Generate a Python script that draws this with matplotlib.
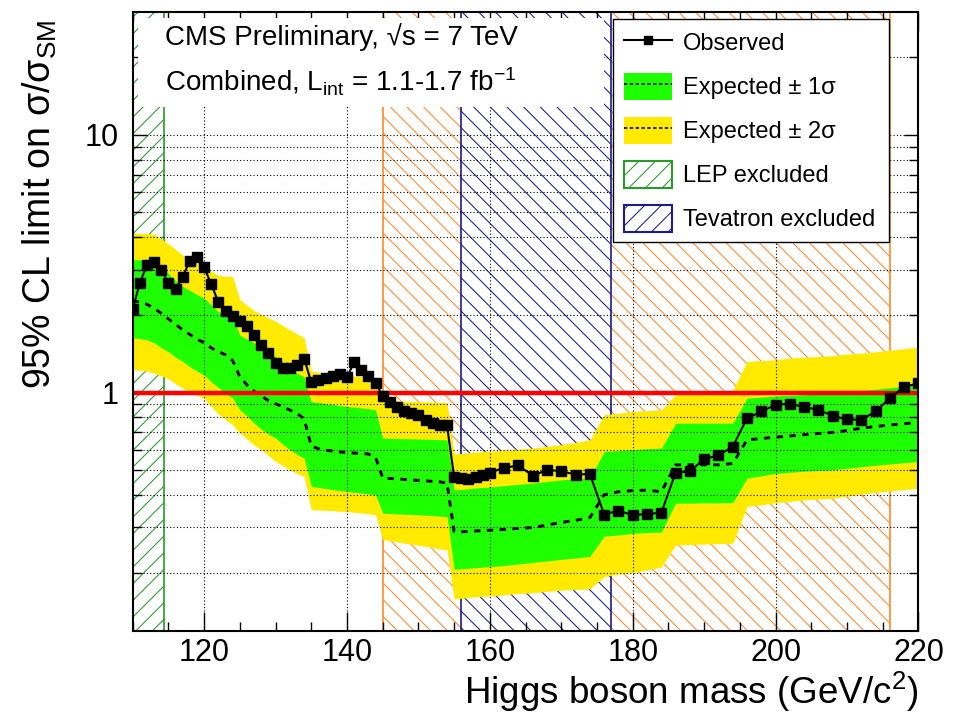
import matplotlib
matplotlib.use("Agg")
import matplotlib.pyplot as plt
from matplotlib.lines import Line2D
from matplotlib.patches import Patch, Rectangle
from matplotlib.ticker import MultipleLocator, NullFormatter

plt.rcParams['font.family'] = ['Liberation Sans', 'DejaVu Sans']
plt.rcParams['mathtext.fontset'] = 'custom'
plt.rcParams['mathtext.rm'] = 'Liberation Sans'
plt.rcParams['mathtext.it'] = 'Liberation Sans:italic'
plt.rcParams['mathtext.bf'] = 'Liberation Sans:bold'
plt.rcParams['hatch.linewidth'] = 0.75

# Higgs mass points (GeV)
masses = [110, 111, 112, 113, 114, 115, 116, 117, 118, 119,
          120, 121, 122, 123, 124, 125, 126, 127, 128, 129,
          130, 131, 132, 133, 134, 135, 136, 137, 138, 139,
          140, 141, 142, 143, 144, 145, 146, 147, 148, 149,
          150, 151, 152, 153, 154, 155, 156, 157, 158, 159,
          160, 162, 164, 166, 168, 170, 172, 174, 176, 178,
          180, 182, 184, 186, 188, 190, 192, 194, 196, 198,
          200, 202, 204, 206, 208, 210, 212, 214, 216, 218, 220]

observed = [2.10, 2.66, 3.13, 3.21, 2.98, 2.67, 2.52, 2.82, 3.24, 3.36,
            3.06, 2.63, 2.24, 2.08, 1.98, 1.90, 1.81, 1.67, 1.53, 1.42,
            1.30, 1.245, 1.245, 1.28, 1.355, 1.095, 1.115, 1.14, 1.16, 1.175,
            1.145, 1.315, 1.225, 1.155, 1.09, 0.97, 0.922, 0.882, 0.846, 0.832,
            0.821, 0.781, 0.763, 0.745, 0.745, 0.469, 0.467, 0.461, 0.472, 0.479,
            0.489, 0.510, 0.521, 0.475, 0.501, 0.495, 0.480, 0.483, 0.336, 0.348,
            0.334, 0.338, 0.341, 0.489, 0.494, 0.552, 0.570, 0.617, 0.795, 0.844,
            0.896, 0.904, 0.878, 0.857, 0.812, 0.786, 0.784, 0.844, 0.951, 1.052, 1.085]

expected = [2.27, 2.24, 2.20, 2.12, 2.03, 1.93, 1.84, 1.75, 1.68, 1.61,
            1.56, 1.49, 1.44, 1.40, 1.33, 1.15, 1.07, 1.01, 0.97, 0.93,
            0.905, 0.88, 0.855, 0.83, 0.79, 0.62, 0.605, 0.597, 0.592, 0.588,
            0.585, 0.582, 0.58, 0.577, 0.56, 0.466, 0.464, 0.462, 0.46, 0.458,
            0.456, 0.454, 0.452, 0.45, 0.445, 0.289, 0.288, 0.289, 0.29, 0.291,
            0.292, 0.294, 0.297, 0.299, 0.306, 0.313, 0.319, 0.327, 0.401, 0.412,
            0.416, 0.418, 0.412, 0.524, 0.524, 0.524, 0.524, 0.53, 0.655, 0.663,
            0.671, 0.678, 0.686, 0.693, 0.70, 0.712, 0.727, 0.738, 0.748, 0.757, 0.765]

exp_plus2 = [4.16, 4.15, 4.14, 4.12, 3.95, 3.78, 3.60, 3.42, 3.30, 3.18,
             3.08, 2.95, 2.85, 2.83, 2.82, 2.29, 2.18, 2.08, 2.01, 1.95,
             1.89, 1.82, 1.75, 1.69, 1.63, 1.21, 1.20, 1.19, 1.185, 1.18,
             1.17, 1.16, 1.155, 1.15, 1.14, 0.93, 0.93, 0.928, 0.926, 0.924,
             0.922, 0.92, 0.918, 0.916, 0.915, 0.578, 0.58, 0.584, 0.587, 0.59,
             0.592, 0.597, 0.603, 0.609, 0.618, 0.627, 0.64, 0.655, 0.82, 0.83,
             0.845, 0.85, 0.857, 0.98, 0.99, 1.0, 1.01, 1.02, 1.32, 1.33,
             1.34, 1.36, 1.37, 1.38, 1.39, 1.41, 1.42, 1.44, 1.46, 1.48, 1.50]

exp_plus1 = [3.27, 3.28, 3.29, 3.20, 3.04, 2.90, 2.72, 2.58, 2.49, 2.40,
             2.32, 2.19, 2.06, 2.01, 1.97, 1.67, 1.61, 1.56, 1.50, 1.44,
             1.38, 1.31, 1.25, 1.19, 1.15, 0.92, 0.915, 0.905, 0.897, 0.89,
             0.883, 0.877, 0.871, 0.865, 0.857, 0.665, 0.664, 0.663, 0.662, 0.661,
             0.66, 0.659, 0.658, 0.656, 0.655, 0.419, 0.421, 0.423, 0.426, 0.428,
             0.43, 0.435, 0.44, 0.445, 0.452, 0.458, 0.462, 0.465, 0.59, 0.595,
             0.60, 0.605, 0.608, 0.76, 0.76, 0.76, 0.76, 0.76, 0.951, 0.96,
             0.97, 0.975, 0.98, 0.99, 1.0, 1.01, 1.02, 1.03, 1.045, 1.055, 1.07]

exp_minus1 = [1.63, 1.62, 1.60, 1.56, 1.49, 1.44, 1.37, 1.32, 1.26, 1.21,
              1.17, 1.10, 1.045, 0.99, 0.951, 0.857, 0.81, 0.76, 0.72, 0.69,
              0.665, 0.63, 0.60, 0.575, 0.556, 0.432, 0.428, 0.424, 0.42, 0.416,
              0.413, 0.41, 0.407, 0.404, 0.401, 0.340, 0.339, 0.338, 0.337, 0.336,
              0.335, 0.334, 0.333, 0.331, 0.330, 0.206, 0.207, 0.208, 0.209, 0.21,
              0.211, 0.213, 0.216, 0.219, 0.222, 0.225, 0.228, 0.231, 0.277, 0.28,
              0.284, 0.286, 0.287, 0.372, 0.372, 0.373, 0.373, 0.374, 0.465, 0.475,
              0.485, 0.49, 0.495, 0.498, 0.501, 0.508, 0.515, 0.522, 0.528, 0.534, 0.54]

exp_minus2 = [1.225, 1.22, 1.21, 1.19, 1.16, 1.13, 1.08, 1.04, 1.0, 0.975,
              0.951, 0.88, 0.825, 0.785, 0.749, 0.696, 0.66, 0.625, 0.60, 0.57,
              0.54, 0.52, 0.50, 0.485, 0.472, 0.351, 0.35, 0.349, 0.348, 0.346,
              0.345, 0.343, 0.341, 0.338, 0.335, 0.268, 0.266, 0.263, 0.26, 0.258,
              0.255, 0.253, 0.25, 0.247, 0.245, 0.158, 0.159, 0.16, 0.161, 0.162,
              0.162, 0.164, 0.166, 0.167, 0.169, 0.171, 0.172, 0.173, 0.193, 0.197,
              0.20, 0.205, 0.21, 0.256, 0.257, 0.258, 0.259, 0.26, 0.361, 0.367,
              0.373, 0.378, 0.383, 0.386, 0.389, 0.396, 0.403, 0.41, 0.415, 0.42, 0.425]

# excluded mass ranges (GeV)
lep_excl = (110, 114.4)
cms_excl = (145, 216)
tev_excl = (156, 177)

x_major = [120, 140, 160, 180, 200, 220]
y_major = [1, 10]
y_minor = [0.2, 0.3, 0.4, 0.5, 0.6, 0.7, 0.8, 0.9, 2, 3, 4, 5, 6, 7, 8, 9, 20]

GREEN = '#1eff00'
YELLOW = '#ffea00'
LEP_COL = '#2a9a2a'
CMS_COL = '#ff8a2a'
TEV_COL = '#1c1c8a'

fig = plt.figure(figsize=(9.7, 7.25), dpi=100)
ax = fig.add_axes([0.1368, 0.1301, 0.8101, 0.8534])
ax.set_yscale('log')
ax.set_xlim(110, 220)
ax.set_ylim(0.119, 30)

# hatched exclusion regions
ax.axvspan(*lep_excl, facecolor='none', edgecolor=LEP_COL, hatch='//', lw=0, zorder=1)
ax.axvspan(*cms_excl, facecolor='none', edgecolor=CMS_COL, hatch='\\\\', lw=0, zorder=1)
ax.axvspan(*tev_excl, facecolor='white', edgecolor=TEV_COL, hatch='\\\\', lw=0, zorder=1.1)
ax.axvline(lep_excl[1], color=LEP_COL, lw=1.2, zorder=1.2)
for xv in cms_excl:
    ax.axvline(xv, color=CMS_COL, lw=1.2, zorder=1.2)
for xv in tev_excl:
    ax.axvline(xv, color=TEV_COL, lw=1.2, zorder=1.2)

# expected bands
ax.fill_between(masses, exp_minus2, exp_plus2, color=YELLOW, lw=0, zorder=1.5)
ax.fill_between(masses, exp_minus1, exp_plus1, color=GREEN, lw=0, zorder=1.6)

# grid on top of the bands
ax.set_axisbelow(False)
ax.set_xticks(x_major, labels=[str(v) for v in x_major], fontsize=22)
ax.xaxis.set_minor_locator(MultipleLocator(5))
ax.set_yticks(y_major, labels=['1', '10'], fontsize=22)
ax.set_yticks(y_minor, minor=True)
ax.yaxis.set_minor_formatter(NullFormatter())
ax.grid(True, which='major', axis='x', color='black', ls=(0, (1, 2)), lw=0.8)
ax.grid(True, which='both', axis='y', color='black', ls=(0, (1, 2)), lw=0.8)
ax.tick_params(which='both', direction='in', top=True, right=True, width=1)
ax.tick_params(axis='x', which='major', length=14, pad=5)
ax.tick_params(axis='x', which='minor', length=6.5)
ax.tick_params(axis='y', which='major', length=10, pad=10)
ax.tick_params(axis='y', which='minor', length=6.5)
for sp in ax.spines.values():
    sp.set_linewidth(1.5)
    sp.set_zorder(10)

ax.plot(masses, expected, color='black', lw=2.1, dashes=(2.2, 2.2), zorder=5)
ax.axhline(1, color='#ff0000', lw=3.2, zorder=5.5)
ax.plot(masses, observed, color='black', lw=1.5, marker='s', ms=6.5, zorder=6)

# white box behind the header text
ax.add_patch(Rectangle((110.74, 12.85), 176.0 - 110.74, 28.4 - 12.85,
                       facecolor='white', edgecolor='none', zorder=7))
fig.text(165 / 970, 1 - 45 / 725, 'CMS Preliminary, √s = 7 TeV', fontsize=20, va='baseline')
fig.text(165 / 970, 1 - 92 / 725, r'Combined, L$_{\rm int}$ = 1.1-1.7 fb$^{-1}$',
         fontsize=20, va='baseline')

handles = [
    Line2D([], [], color='black', lw=1.5, marker='s', ms=6),
    (Patch(facecolor=GREEN, edgecolor='none'),
     Line2D([], [], color='black', lw=1.2, ls=(0, (2, 1.5)))),
    (Patch(facecolor=YELLOW, edgecolor='none'),
     Line2D([], [], color='black', lw=1.2, ls=(0, (2, 1.5)))),
    Patch(facecolor='white', edgecolor=LEP_COL, hatch='//', lw=1.5),
    Patch(facecolor='white', edgecolor=TEV_COL, hatch='//', lw=1.5),
]
labels = ['Observed', 'Expected ± 1σ', 'Expected ± 2σ', 'LEP excluded', 'Tevatron excluded']
leg = ax.legend(handles, labels, loc='upper left',
                bbox_to_anchor=(0.6116, 0.6347, 0.3512, 0.3545), mode='expand',
                frameon=True, fancybox=False, edgecolor='black', framealpha=1,
                fontsize=17, numpoints=1, handlelength=2.05, handleheight=1.35,
                labelspacing=0.74, handletextpad=0.45, borderpad=0.45, borderaxespad=0)
leg.get_frame().set_linewidth(1.0)
leg.set_zorder(12)

fig.text(40 / 970, 1 - 20 / 725, r'95% CL limit on σ/σ$_{\rm SM}$', rotation=90,
         ha='center', va='top', fontsize=27)
fig.text(918.5 / 970, 1 - 704 / 725, r'Higgs boson mass (GeV/c$^{2}$)', ha='right',
         va='baseline', fontsize=26.5)

fig.savefig('out.png', dpi=100)
